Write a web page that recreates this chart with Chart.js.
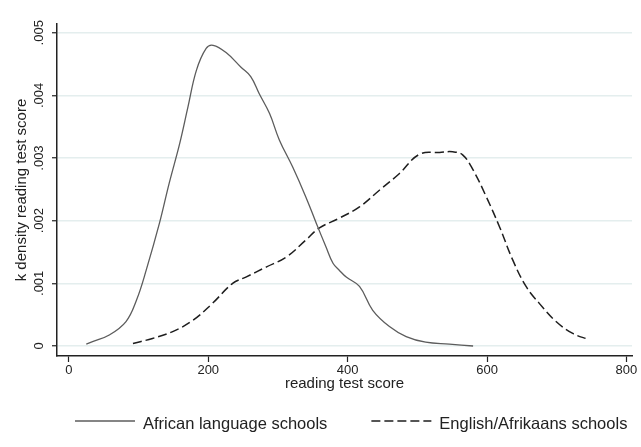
<!DOCTYPE html>
<html>
<head>
<meta charset="utf-8">
<script src="https://cdn.jsdelivr.net/npm/chart.js@4.4.1/dist/chart.umd.min.js"></script>
<style>
  html, body { margin: 0; padding: 0; background: #fff; }
  #wrap { width: 641px; height: 447px; position: relative; }
</style>
</head>
<body>
<div id="wrap"><canvas id="kdens"></canvas></div>
<script>
// kernel density estimates
const africanScore   = [25, 34, 58, 82, 97, 111, 130, 144, 159, 171, 183, 197, 207, 226, 247, 261, 273, 288, 302, 321, 340, 355, 369, 379, 388, 398, 417, 436, 460, 484, 512, 546, 580];
const africanDensity = [0.00003, 0.00007, 0.000175, 0.00039, 0.00073, 0.00121, 0.00196, 0.0026, 0.00323, 0.00382, 0.0044, 0.00475, 0.0048, 0.00468, 0.00445, 0.0043, 0.00403, 0.00371, 0.00329, 0.00286, 0.00238, 0.00196, 0.00158, 0.00132, 0.00121, 0.0011, 0.00095, 0.00057, 0.00031, 0.00015, 0.00006, 0.00003, 0.0];
const englishScore   = [92, 120, 149, 178, 206, 235, 254, 283, 312, 340, 359, 388, 417, 446, 474, 503, 532, 551, 565, 580, 599, 618, 637, 656, 675, 699, 723, 747];
const englishDensity = [0.00004, 0.00012, 0.00023, 0.00041, 0.00068, 0.001, 0.0011, 0.00126, 0.00142, 0.00169, 0.00188, 0.00204, 0.00222, 0.00249, 0.00275, 0.00306, 0.00309, 0.0031, 0.00305, 0.00281, 0.00238, 0.0019, 0.00137, 0.00095, 0.00068, 0.00039, 0.0002, 0.0001];

const seriesNames = ['African language schools', 'English/Afrikaans schools'];
const xTicks = [0, 200, 400, 600, 800];
const yTicks = [0, 0.001, 0.002, 0.003, 0.004, 0.005];
const yTickLabels = ['0', '.001', '.002', '.003', '.004', '.005'];

const FONT = '"Liberation Sans", Arial, sans-serif';
const INK = '#222';

function points(xs, ys) {
    return xs.map(function(x, i) { return {x: x, y: ys[i]}; });
}

// stata look: vertical y tick labels and the legend row at the bottom
const stataPlugin = {
    id: 'stata',
    afterDraw: function(chart) {
        var ctx = chart.ctx,
            y = chart.scales.y;

        ctx.save();
        ctx.fillStyle = INK;
        ctx.font = '13px ' + FONT;
        ctx.textAlign = 'center';
        ctx.textBaseline = 'middle';
        y.ticks.forEach(function(t, i) {
            ctx.save();
            ctx.translate(39, y.getPixelForValue(t.value));
            ctx.rotate(-Math.PI / 2);
            ctx.fillText(yTickLabels[i], 0, 0);
            ctx.restore();
        });

        ctx.font = '16.5px ' + FONT;
        ctx.textAlign = 'left';
        var lx = 75;
        chart.data.datasets.forEach(function(ds) {
            ctx.beginPath();
            ctx.strokeStyle = ds.borderColor;
            ctx.lineWidth = ds.borderWidth;
            ctx.setLineDash(ds.borderDash || []);
            ctx.moveTo(lx, 421);
            ctx.lineTo(lx + 60, 421);
            ctx.stroke();
            ctx.fillText(ds.label, lx + 68, 424);
            lx += 68 + ctx.measureText(ds.label).width + 44;
        });
        ctx.restore();
    }
};

new Chart(document.getElementById('kdens'), {
    type: 'line',
    data: {
        datasets: [{
            label: seriesNames[0],
            data: points(africanScore, africanDensity),
            borderColor: '#5c5c5c',
            borderWidth: 1.3,
            pointRadius: 0,
            tension: 0.4,
            fill: false
        }, {
            label: seriesNames[1],
            data: points(englishScore, englishDensity),
            borderColor: '#1e1e1e',
            borderWidth: 1.5,
            borderDash: [9, 4],
            pointRadius: 0,
            tension: 0.4,
            fill: false
        }]
    },
    options: {
        responsive: true,
        maintainAspectRatio: false,
        animation: false,
        layout: { padding: { left: 0, right: 9, top: 24, bottom: 42 } },
        plugins: {
            legend: { display: false },
            tooltip: { enabled: false }
        },
        scales: {
            x: {
                type: 'linear',
                min: -17,
                max: 808,
                afterBuildTicks: function(s) { s.ticks = xTicks.map(function(v) { return {value: v}; }); },
                afterFit: function(s) { s.height = 49; },
                ticks: {
                    color: INK,
                    font: { family: FONT, size: 13 },
                    padding: 1,
                    maxRotation: 0
                },
                grid: {
                    drawOnChartArea: false,
                    tickLength: 6,
                    tickColor: INK,
                    tickWidth: 1.2
                },
                border: { color: INK, width: 1.5 },
                title: {
                    display: true,
                    text: 'reading test score',
                    color: INK,
                    font: { family: FONT, size: 15 },
                    padding: { top: 0, bottom: 12 }
                }
            },
            y: {
                min: -0.00016,
                max: 0.00514,
                afterBuildTicks: function(s) { s.ticks = yTicks.map(function(v) { return {value: v}; }); },
                afterFit: function(s) { s.width = 57; },
                ticks: { display: false },
                grid: {
                    color: '#e4eeee',
                    lineWidth: 1.5,
                    tickLength: 5,
                    tickColor: INK,
                    tickWidth: 1.2
                },
                border: { color: INK, width: 1.5 },
                title: {
                    display: true,
                    text: 'k density reading test score',
                    color: INK,
                    font: { family: FONT, size: 15 },
                    padding: { top: 13, bottom: 0 }
                }
            }
        }
    },
    plugins: [stataPlugin]
});
</script>
</body>
</html>
